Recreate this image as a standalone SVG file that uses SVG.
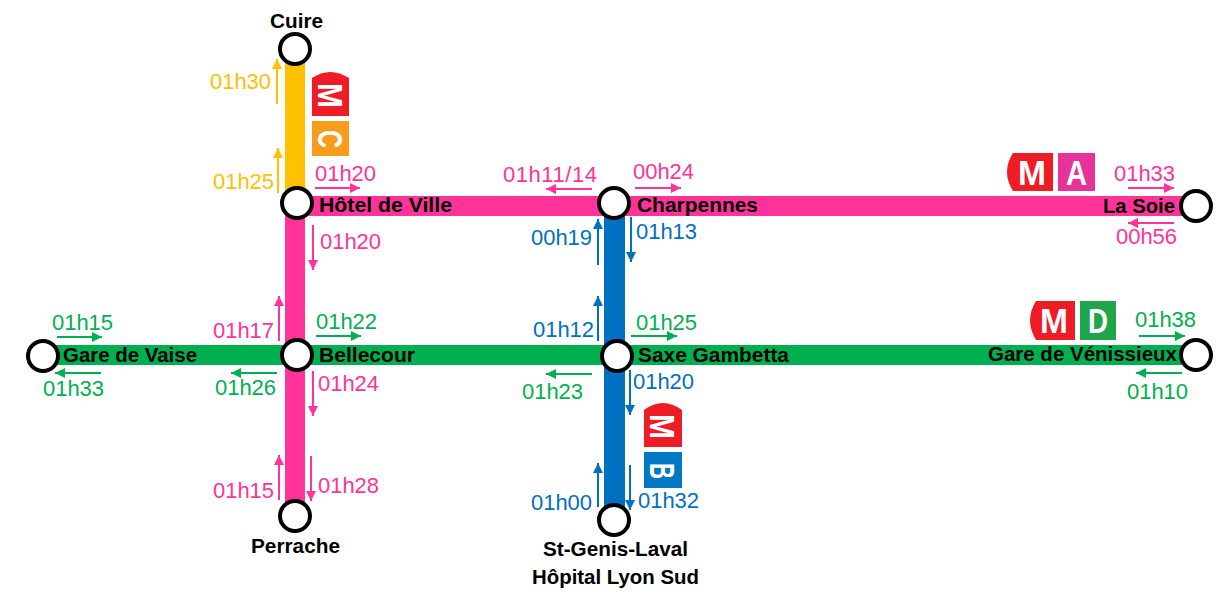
<svg xmlns="http://www.w3.org/2000/svg" width="1222" height="594" viewBox="0 0 1222 594">
<style>
text{font-family:"Liberation Sans",Arial,sans-serif}
.st{font-size:21px;font-weight:700;fill:#000}
.t{font-size:22px}
.y{fill:#ffc000}.p{fill:#ff3399}.b{fill:#0070c0}.g{fill:#00b050}
.stn{fill:#fff;stroke:#000;stroke-width:4}
.a{fill:none;stroke-width:2}
.ay{stroke:#ffc000;marker-end:url(#my)}
.ap{stroke:#ff3399;marker-end:url(#mp)}
.ab{stroke:#0070c0;marker-end:url(#mb)}
.ag{stroke:#00b050;marker-end:url(#mg)}
.bt{font-size:35px;font-weight:700;fill:#fff}
</style>
<defs>
<marker id="my" markerUnits="userSpaceOnUse" markerWidth="11" markerHeight="11" refX="10" refY="5" orient="auto"><path d="M0 0L10 5L0 10Z" fill="#ffc000"/></marker>
<marker id="mp" markerUnits="userSpaceOnUse" markerWidth="11" markerHeight="11" refX="10" refY="5" orient="auto"><path d="M0 0L10 5L0 10Z" fill="#ff3399"/></marker>
<marker id="mb" markerUnits="userSpaceOnUse" markerWidth="11" markerHeight="11" refX="10" refY="5" orient="auto"><path d="M0 0L10 5L0 10Z" fill="#0070c0"/></marker>
<marker id="mg" markerUnits="userSpaceOnUse" markerWidth="11" markerHeight="11" refX="10" refY="5" orient="auto"><path d="M0 0L10 5L0 10Z" fill="#00b050"/></marker>
</defs>
<g id="connectors">
<rect x="285" y="48" width="20" height="155" fill="#ffc000"/>
<rect x="285" y="203" width="20" height="313" fill="#ff3399"/>
<rect x="297" y="196" width="899" height="20" fill="#ff3399"/>
<rect x="43" y="345" width="1153" height="20" fill="#00b050"/>
<rect x="604" y="205" width="21" height="315" fill="#0070c0"/>
<g class="a">
<path class="ay" d="M277 104V59"/><path class="ay" d="M278 193V148"/>
<path class="ap" d="M315 188H360"/><path class="ap" d="M313 225V270"/>
<path class="ap" d="M592 189H546"/><path class="ap" d="M635 188H681"/>
<path class="ap" d="M1128 188H1174"/><path class="ap" d="M1174 223H1128"/>
<path class="ap" d="M279 341V296"/><path class="ap" d="M313 371V416"/>
<path class="ap" d="M279 500V455"/><path class="ap" d="M311 456V501"/>
<path class="ab" d="M598 265V219"/><path class="ab" d="M631 217V262"/>
<path class="ab" d="M598 341V296"/><path class="ab" d="M630 370V415"/>
<path class="ab" d="M598 507V463"/><path class="ab" d="M630 465V510"/>
<path class="ag" d="M57 337H102"/><path class="ag" d="M101 373H55"/>
<path class="ag" d="M277 373H231"/><path class="ag" d="M316 336H361"/>
<path class="ag" d="M592 374H546"/><path class="ag" d="M631 336H677"/>
<path class="ag" d="M1139 336H1185"/><path class="ag" d="M1182 373H1136"/>
</g>
</g>
<g id="times">
<text class="t y" x="210" y="89" textLength="61">01h30</text>
<text class="t y" x="213" y="189" textLength="61">01h25</text>
<text class="t p" x="315" y="181" textLength="61">01h20</text>
<text class="t p" x="320" y="249" textLength="61">01h20</text>
<text class="t p" x="503" y="182" textLength="94">01h11/14</text>
<text class="t p" x="633" y="179" textLength="61">00h24</text>
<text class="t p" x="1114" y="181" textLength="61">01h33</text>
<text class="t p" x="1116" y="244" textLength="61">00h56</text>
<text class="t p" x="213" y="338" textLength="61">01h17</text>
<text class="t p" x="318" y="391" textLength="61">01h24</text>
<text class="t p" x="213" y="498" textLength="61">01h15</text>
<text class="t p" x="318" y="493" textLength="61">01h28</text>
<text class="t b" x="531" y="245" textLength="61">00h19</text>
<text class="t b" x="636" y="239" textLength="61">01h13</text>
<text class="t b" x="533" y="337" textLength="61">01h12</text>
<text class="t b" x="633" y="389" textLength="61">01h20</text>
<text class="t b" x="531" y="510" textLength="61">01h00</text>
<text class="t b" x="638" y="508" textLength="61">01h32</text>
<text class="t g" x="52" y="330" textLength="61">01h15</text>
<text class="t g" x="43" y="396" textLength="61">01h33</text>
<text class="t g" x="215" y="395" textLength="61">01h26</text>
<text class="t g" x="316" y="329" textLength="61">01h22</text>
<text class="t g" x="522" y="399" textLength="61">01h23</text>
<text class="t g" x="636" y="330" textLength="61">01h25</text>
<text class="t g" x="1135" y="327" textLength="61">01h38</text>
<text class="t g" x="1127" y="399" textLength="61">01h10</text>
</g>
<g id="badge-c">
<path d="M312 116V78Q330 66 349 78V116Z" fill="#ee1c25"/>
<text class="bt" transform="translate(318,83) rotate(90)" textLength="25" lengthAdjust="spacingAndGlyphs">M</text>
<rect x="312" y="121" width="37" height="35" fill="#f89c1c"/>
<text class="bt" transform="translate(318,130) rotate(90)" textLength="18" lengthAdjust="spacingAndGlyphs">C</text>
</g>
<g id="badge-a">
<path d="M1053 153H1013Q1001 172 1013 191H1053Z" fill="#ee1c25"/>
<text class="bt" x="1018" y="185" textLength="28" lengthAdjust="spacingAndGlyphs">M</text>
<rect x="1058" y="153" width="37" height="38" fill="#e5339a"/>
<text class="bt" x="1066" y="185" textLength="21" lengthAdjust="spacingAndGlyphs">A</text>
</g>
<g id="badge-d">
<path d="M1075 301H1036Q1024 320 1036 340H1075Z" fill="#ee1c25"/>
<text class="bt" x="1040" y="333" textLength="28" lengthAdjust="spacingAndGlyphs">M</text>
<rect x="1080" y="301" width="36" height="39" fill="#1fa64a"/>
<text class="bt" x="1088" y="333" textLength="20" lengthAdjust="spacingAndGlyphs">D</text>
</g>
<g id="badge-b">
<path d="M644 447V410Q663 396 682 410V447Z" fill="#ee1c25"/>
<text class="bt" transform="translate(650,414) rotate(90)" textLength="25" lengthAdjust="spacingAndGlyphs">M</text>
<rect x="644" y="452" width="38" height="36" fill="#0079c2"/>
<text class="bt" transform="translate(650,463) rotate(90)" textLength="16" lengthAdjust="spacingAndGlyphs">B</text>
</g>
<g id="cuire"><circle class="stn" cx="295" cy="49" r="15"/><text class="st" x="270" y="28" textLength="53" lengthAdjust="spacingAndGlyphs">Cuire</text></g>
<g id="hotel-de-ville"><circle class="stn" cx="297" cy="203" r="15"/><text class="st" x="319" y="212" textLength="133" lengthAdjust="spacingAndGlyphs">Hôtel de Ville</text></g>
<g id="charpennes"><circle class="stn" cx="614" cy="203" r="15"/><text class="st" x="637" y="212" textLength="121" lengthAdjust="spacingAndGlyphs">Charpennes</text></g>
<g id="la-soie"><circle class="stn" cx="1196" cy="206" r="15"/><text class="st" x="1103" y="213" textLength="72" lengthAdjust="spacingAndGlyphs">La Soie</text></g>
<g id="gare-de-vaise"><circle class="stn" cx="43" cy="356" r="15"/><text class="st" x="63" y="362" textLength="134" lengthAdjust="spacingAndGlyphs">Gare de Vaise</text></g>
<g id="bellecour"><circle class="stn" cx="297" cy="355" r="15"/><text class="st" x="319" y="362" textLength="96" lengthAdjust="spacingAndGlyphs">Bellecour</text></g>
<g id="saxe-gambetta"><circle class="stn" cx="617" cy="356" r="15"/><text class="st" x="638" y="362" textLength="151" lengthAdjust="spacingAndGlyphs">Saxe Gambetta</text></g>
<g id="gare-de-venissieux"><circle class="stn" cx="1196" cy="355" r="15"/><text class="st" x="988" y="361" textLength="189" lengthAdjust="spacingAndGlyphs">Gare de Vénissieux</text></g>
<g id="perrache"><circle class="stn" cx="295" cy="516" r="15"/><text class="st" x="251" y="553" textLength="89" lengthAdjust="spacingAndGlyphs">Perrache</text></g>
<g id="st-genis-laval"><circle class="stn" cx="614" cy="520" r="15"/><text class="st" x="543" y="556" textLength="145" lengthAdjust="spacingAndGlyphs">St-Genis-Laval</text><text class="st" x="532" y="584" textLength="167" lengthAdjust="spacingAndGlyphs">Hôpital Lyon Sud</text></g>
</svg>
